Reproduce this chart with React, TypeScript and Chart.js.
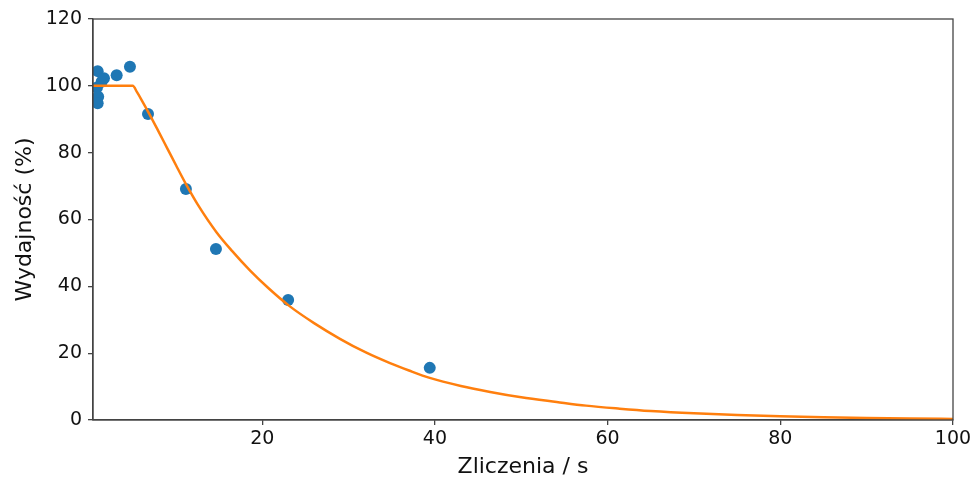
import React, { useEffect, useRef } from "react";
import { Chart, registerables } from "chart.js";

Chart.register(...registerables);

// Measured points (Zliczenia / s, Wydajność %)
const pointX = [0.94, 1.4, 1.67, 3.14, 4.68, 0.86, 1.0, 0.94, 6.77, 11.16, 14.64, 23.0, 39.4];
const pointY = [104.4, 101.2, 102.3, 103.2, 105.7, 99.5, 96.7, 94.8, 91.6, 69.1, 51.2, 35.9, 15.6];

// Fitted curve
const curveX = [0.4, 2, 4, 5.0, 5.5, 6, 6.9, 8, 9, 10, 11.25, 12.5, 14.7, 16.5, 18.6, 20.7, 23.2, 26, 29, 32, 34.8, 37, 39.4, 43, 46.4, 50, 54.1, 57.5, 61.4, 65, 70, 75, 80, 85, 90, 95, 100];
const curveY = [100, 100, 100, 100, 98.1, 95.9, 91.7, 86.3, 81.3, 76.3, 70.2, 64.6, 56.2, 50.6, 44.7, 39.5, 34, 29, 24.3, 20.2, 17, 14.8, 12.6, 10.2, 8.4, 6.8, 5.4, 4.3, 3.4, 2.7, 2.0, 1.5, 1.1, 0.8, 0.6, 0.45, 0.33];

const xTicks = [20, 40, 60, 80, 100];
const yTicks = [0, 20, 40, 60, 80, 100, 120];

const xLabel = "Zliczenia / s";
const yLabel = "Wydajność (%)";

const FONT = "'DejaVu Sans', sans-serif";

const frame = {
  id: "frame",
  afterDatasetsDraw(chart: any) {
    const { ctx, chartArea: a } = chart;
    ctx.save();
    ctx.strokeStyle = "#444";
    ctx.lineWidth = 1.3;
    ctx.strokeRect(a.left, a.top, a.right - a.left, a.bottom - a.top);
    ctx.restore();
  },
};

export default function App() {
  const ref = useRef<HTMLCanvasElement | null>(null);
  useEffect(() => {
    if (!ref.current) return;
    const chart = new Chart(ref.current, {
      type: "scatter",
      data: {
        datasets: [
          {
            type: "line",
            data: curveX.map((x, i) => ({ x, y: curveY[i] })),
            borderColor: "#ff7f0e",
            borderWidth: 2.5,
            pointRadius: 0,
            fill: false,
            cubicInterpolationMode: "monotone",
            clip: 0,
          } as any,
          {
            type: "scatter",
            data: pointX.map((x, i) => ({ x, y: pointY[i] })),
            backgroundColor: "#1f77b4",
            borderColor: "#1f77b4",
            pointRadius: 6,
            pointHoverRadius: 6,
            borderWidth: 0,
            clip: 0,
          } as any,
        ],
      },
      options: {
        animation: false,
        responsive: false,
        events: [],
        layout: { padding: { left: 0, top: 19, right: 22, bottom: 0 } },
        plugins: { legend: { display: false }, tooltip: { enabled: false } },
        scales: {
          x: {
            type: "linear",
            min: 0.4,
            max: 100,
            afterBuildTicks: (s: any) => {
              s.ticks = xTicks.map((v) => ({ value: v }));
            },
            afterFit: (s: any) => {
              s.height = 63;
            },
            grid: { display: true, drawOnChartArea: false, drawTicks: true, tickLength: 5, color: "#444", lineWidth: 1.3 },
            border: { display: true, color: "#444", width: 1.3 },
            ticks: { color: "#111", font: { family: FONT, size: 19 }, padding: 3, maxRotation: 0 },
            title: { display: true, text: xLabel, color: "#111", font: { family: FONT, size: 22 }, padding: { top: 0, bottom: 3 } },
          },
          y: {
            type: "linear",
            min: 0,
            max: 120,
            afterBuildTicks: (s: any) => {
              s.ticks = yTicks.map((v) => ({ value: v }));
            },
            afterFit: (s: any) => {
              s.width = 93;
            },
            grid: { display: true, drawOnChartArea: false, drawTicks: true, tickLength: 5, color: "#444", lineWidth: 1.3 },
            border: { display: true, color: "#444", width: 1.3 },
            ticks: { color: "#111", font: { family: FONT, size: 19 }, padding: 6 },
            title: { display: true, text: yLabel, color: "#111", font: { family: FONT, size: 22 }, padding: { top: 12, bottom: 0 } },
          },
        },
      },
      plugins: [frame],
    });
    return () => chart.destroy();
  }, []);
  return (
    <div style={{ position: "fixed", left: 0, top: 0, width: 975, height: 483, background: "#fff" }}>
      <canvas ref={ref} width={975} height={483} style={{ width: 975, height: 483 }} />
    </div>
  );
}
